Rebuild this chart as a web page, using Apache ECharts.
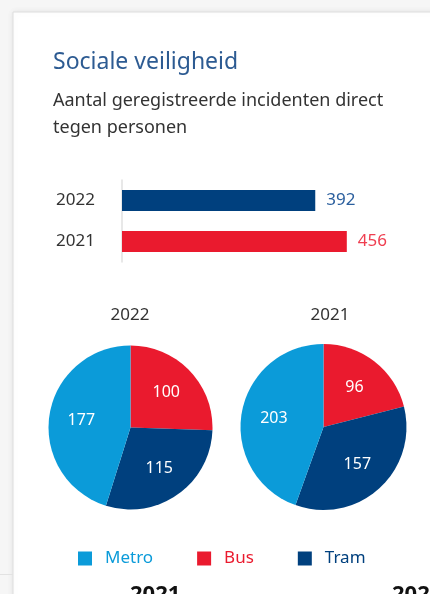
<!DOCTYPE html>
<html>
<head>
<meta charset="utf-8">
<script src="https://cdn.jsdelivr.net/npm/echarts@6/dist/echarts.min.js"></script>
<style>
  html, body { margin: 0; padding: 0; background: #f6f6f6; }
  #main { width: 430px; height: 594px; }
</style>
</head>
<body>
<div id="main"></div>
<script>
// data
const years = ['2022', '2021']
const totals = [392, 456]
const modes = ['Bus', 'Tram', 'Metro']
const pie2022 = [100, 115, 177]
const pie2021 = [96, 157, 203]
const legendOrder = ['Metro', 'Bus', 'Tram']

const colors = { Metro: '#0b9bd9', Bus: '#ea1a2e', Tram: '#00407e' }
const barColors = ['#00407e', '#ea1a2e']
const barLabelColors = ['#2b5f9e', '#ef3e50']
const font = '"Noto Sans", "Open Sans", sans-serif'

function pieData(values) {
  return modes.map((m, i) => ({ name: m, value: values[i], itemStyle: { color: colors[m] } }))
}

function pieSeries(values, center, r) {
  return [
    {
      type: 'pie',
      center: center,
      radius: [0, r],
      startAngle: 90,
      clockwise: true,
      silent: true,
      label: { show: false },
      labelLine: { show: false },
      data: pieData(values)
    },
    {
      // transparent copy, only used to place the labels a bit further out
      type: 'pie',
      center: center,
      radius: [0, r * 1.14],
      startAngle: 90,
      clockwise: true,
      silent: true,
      itemStyle: { color: 'transparent' },
      label: { show: true, position: 'inside', color: '#fff', fontSize: 16, fontFamily: font, formatter: '{c}' },
      labelLine: { show: false },
      data: modes.map((m, i) => ({ name: m, value: values[i] }))
    }
  ]
}

const chart = echarts.init(document.getElementById('main'))
const option = {
  backgroundColor: '#f6f6f6',
  animation: false,
  graphic: [
    {
      type: 'rect', z: -10,
      shape: { x: 13, y: 12, width: 440, height: 600 },
      style: { fill: '#fff', stroke: '#dedede', lineWidth: 1, shadowBlur: 6, shadowColor: 'rgba(0,0,0,0.08)' }
    },
    {
      type: 'line', z: -9,
      shape: { x1: 0, y1: 574.5, x2: 13, y2: 574.5 },
      style: { stroke: '#e2e2e2', lineWidth: 1 }
    },
    // next card's headings, cut off by the bottom edge
    { type: 'text', left: 130, top: 584, style: { text: '2021', font: 'bold 22px ' + font, fill: '#111' } },
    { type: 'text', left: 392, top: 584, style: { text: '2022', font: 'bold 22px ' + font, fill: '#111' } }
  ],
  title: [
    {
      text: 'Sociale veiligheid',
      subtext: 'Aantal geregistreerde incidenten direct\ntegen personen',
      left: 48, top: 46,
      itemGap: 13,
      textStyle: { fontSize: 23, fontWeight: 'normal', color: '#2d5b92', fontFamily: font },
      subtextStyle: { fontSize: 18, lineHeight: 27, color: '#333', fontFamily: font }
    },
    { text: years[0], left: 125, top: 302, textAlign: 'center',
      textStyle: { fontSize: 17, fontWeight: 'normal', color: '#333', fontFamily: font } },
    { text: years[1], left: 325, top: 302, textAlign: 'center',
      textStyle: { fontSize: 17, fontWeight: 'normal', color: '#333', fontFamily: font } }
  ],
  legend: {
    left: 78, top: 550,
    padding: 0,
    icon: 'rect',
    itemWidth: 14, itemHeight: 14,
    itemGap: 44,
    selectedMode: false,
    textStyle: { fontSize: 17, fontFamily: font, padding: [0, 0, 0, 8] },
    data: legendOrder.map(m => ({ name: m, itemStyle: { color: colors[m] }, textStyle: { color: colors[m] } }))
  },
  grid: { left: 122, top: 180, width: 246.5, height: 82 },
  xAxis: { type: 'value', min: 0, max: 500, show: false },
  yAxis: {
    type: 'category',
    inverse: true,
    data: years,
    axisLine: { lineStyle: { color: '#e0e0e0', width: 1.5 } },
    axisTick: { show: false },
    axisLabel: { fontSize: 17, color: '#333', margin: 27, fontFamily: font }
  },
  series: [
    {
      type: 'bar',
      barWidth: 21,
      data: totals.map((v, i) => ({
        value: v,
        itemStyle: { color: barColors[i] },
        label: { color: barLabelColors[i] }
      })),
      label: { show: true, position: 'right', distance: 11, fontSize: 17, fontFamily: font }
    },
    ...pieSeries(pie2022, [130.5, 427.5], 82),
    ...pieSeries(pie2021, [323.5, 427], 83)
  ]
}
chart.setOption(option)
</script>
</body>
</html>
